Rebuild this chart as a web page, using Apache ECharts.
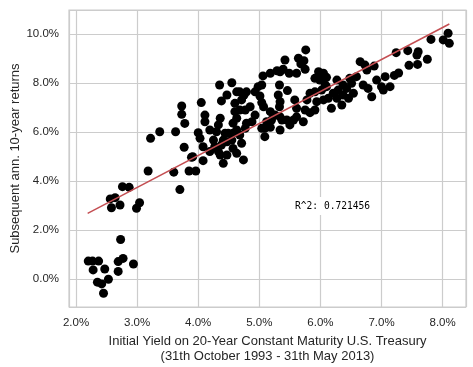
<!DOCTYPE html>
<html>
<head>
<meta charset="utf-8">
<script src="https://cdn.jsdelivr.net/npm/echarts@6/dist/echarts.min.js"></script>
<style>
html,body{margin:0;padding:0;background:#fff;}
#chart{width:473px;height:367px;}
</style>
</head>
<body>
<div id="chart"></div>
<script>
// Initial 20-year treasury yield (%)
var yields = [
2.20,2.27,2.37,2.28,2.47,2.35,2.42,2.53,2.45,2.73,2.69,2.77,2.69,2.94,
2.56,2.64,2.58,2.72,2.76,2.87,3.04,2.99,3.18,3.60,3.85,3.96,3.91,3.70,3.77,
3.73,3.73,3.78,3.37,3.22,3.63,4.00,3.89,4.08,4.05,4.35,4.38,4.47,
4.55,4.79,4.75,4.68,4.63,4.71,4.85,4.77,4.68,4.60,4.60,
4.11,4.11,4.36,4.33,4.57,4.63,4.63,4.57,4.68,4.77,4.79,4.88,4.93,
5.07,5.18,5.06,5.18,5.04,4.98,4.93,5.01,5.04,5.33,5.46,5.31,5.34,5.33,
5.26,5.20,5.12,5.09,5.18,5.34,5.37,5.34,5.45,5.50,5.56,5.61,5.58,
5.75,5.83,5.78,5.83,5.91,6.02,6.10,5.94,5.91,5.61,5.09,5.04,
4.03,4.08,4.19,4.25,4.27,4.33,4.19,4.41,4.47,4.41,4.57,4.63,4.71,4.74,4.55,4.49,
4.30,4.38,4.36,4.47,4.44,
5.76,5.64,5.73,5.68,5.42,5.39,5.29,5.49,5.61,5.75,5.97,6.05,5.91,5.99,6.10,5.34,
8.09,8.11,8.01,7.81,7.60,7.58,7.43,7.24,7.75,7.59,7.45,7.28,7.21,
6.65,6.73,6.76,6.88,
6.08,6.27,6.48,6.51,6.59,6.37,6.43,6.29,6.21,6.13,6.05,
6.18,6.35,6.46,6.27,6.70,6.78,6.84,6.92,7.00,7.06,7.14,7.03,6.37,6.54,5.72
];
// Subsequent annualised 10-year returns (%)
var returns = [
0.73,0.73,0.73,0.37,0.41,-0.13,-0.20,-0.01,-0.58,1.61,0.71,0.84,0.31,0.61,
3.27,3.32,2.91,3.02,3.77,3.74,3.11,2.89,4.41,4.36,4.41,4.41,4.99,3.65,5.38,
7.06,6.72,6.35,6.01,5.74,6.01,5.97,4.97,4.83,7.20,7.92,7.27,7.51,
8.01,7.64,7.51,7.64,7.64,7.31,7.03,6.90,6.90,6.83,7.17,
6.69,6.42,6.56,6.29,6.36,6.56,6.08,5.95,5.88,6.15,6.36,6.42,6.69,
7.03,6.83,8.29,8.40,7.92,7.85,7.64,7.47,7.20,7.92,7.69,7.51,7.24,7.03,
6.69,6.49,6.42,6.15,6.19,6.62,6.49,6.08,6.49,6.29,6.49,6.97,7.31,
6.90,6.79,7.31,7.58,7.64,7.71,7.85,7.24,6.90,6.62,5.81,6.15,
5.74,5.40,6.08,5.67,5.40,5.20,5.20,5.67,5.06,4.72,5.33,5.13,5.54,4.86,5.67,5.95,
6.01,5.47,5.06,5.60,5.95,
9.35,9.01,8.91,8.78,8.94,8.56,8.50,8.40,8.40,8.56,8.46,8.40,8.19,8.12,8.23,8.46,
10.03,9.62,9.76,9.78,9.28,9.14,9.32,9.24,8.97,8.76,8.72,8.41,8.31,
8.87,8.73,8.53,8.69,
7.92,8.12,8.19,7.99,8.26,7.92,7.78,7.71,7.58,7.38,7.31,
6.97,7.10,7.38,7.38,7.92,7.78,7.44,8.12,7.85,8.26,7.85,7.71,7.51,7.58,6.42
];
// Regression line end points (yield %, return %)
var fitX = [2.19, 8.11];
var fitY = [2.68, 10.41];
var rSquaredText = 'R^2: 0.721456';
var xTitle = 'Initial Yield on 20-Year Constant Maturity U.S. Treasury\n(31th October 1993 - 31th May 2013)';
var yTitle = 'Subsequent ann. 10-year returns';

var pts = yields.map(function(x, i){ return [x, returns[i]]; });
var fit = fitX.map(function(x, i){ return [x, fitY[i]]; });

var chart = echarts.init(document.getElementById('chart'), null, {renderer:'canvas'});
var textColor = '#262626';
var fontFam = '"Liberation Sans", Arial, sans-serif';
chart.setOption({
  animation: false,
  backgroundColor: '#ffffff',
  grid: {left: 69, top: 10, width: 397, height: 297, containLabel: false, outerBoundsMode: 'none',
    show: true, borderColor: '#cccccc', borderWidth: 1.2, backgroundColor: '#ffffff'},
  xAxis: {
    type: 'value', min: 1.885, max: 8.383, minInterval: 1, maxInterval: 1,
    axisLine: {show: false}, axisTick: {show: false},
    splitLine: {show: true, lineStyle: {color: '#cccccc', width: 1.2}},
    axisLabel: {showMinLabel: false, showMaxLabel: false, color: textColor, fontSize: 11.5, fontFamily: fontFam, margin: 10,
      formatter: function(v){ return v.toFixed(1) + '%'; }},
    name: xTitle, nameLocation: 'middle', nameGap: 27, nameMoveOverlap: false,
    nameTextStyle: {color: textColor, fontSize: 13, fontFamily: fontFam, lineHeight: 15, verticalAlign: 'top'}
  },
  yAxis: {
    type: 'value', min: -1.143, max: 10.98, minInterval: 2, maxInterval: 2,
    axisLine: {show: false}, axisTick: {show: false},
    splitLine: {show: true, lineStyle: {color: '#cccccc', width: 1.2}},
    axisLabel: {showMinLabel: false, showMaxLabel: false, color: textColor, fontSize: 11.5, fontFamily: fontFam, margin: 10,
      formatter: function(v){ return v.toFixed(1) + '%'; }},
    name: yTitle, nameLocation: 'middle', nameGap: 47, nameMoveOverlap: false,
    nameTextStyle: {color: textColor, fontSize: 13, fontFamily: fontFam}
  },
  series: [
    {type: 'scatter', data: pts, symbolSize: 9, itemStyle: {color: '#000000', opacity: 1}, z: 2},
    {type: 'line', data: fit, symbol: 'none', lineStyle: {color: '#c44e52', width: 1.5}, z: 3, silent: true}
  ],
  graphic: [{
    type: 'text', left: 291, top: 197, z: 10,
    style: {text: rSquaredText, fill: '#000000', font: '9.6px "DejaVu Sans Mono", monospace',
      backgroundColor: '#ffffff', padding: [4, 4, 4, 4]}
  }]
});
</script>
</body>
</html>
